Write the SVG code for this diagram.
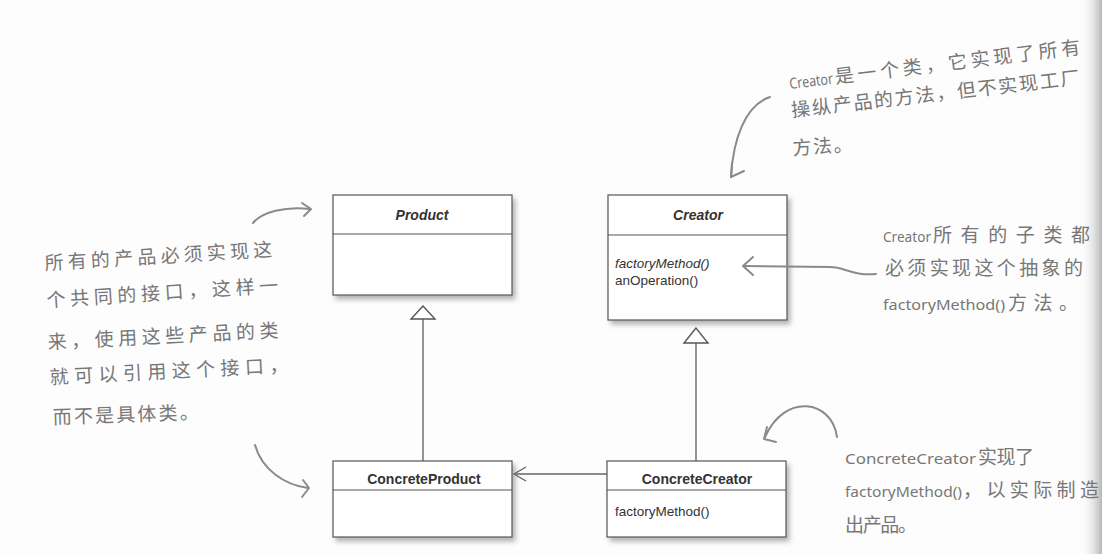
<svg xmlns="http://www.w3.org/2000/svg" width="1102" height="554" viewBox="0 0 1102 554">
<defs>
<filter id="shadow" x="-10%" y="-10%" width="125%" height="135%">
<feDropShadow dx="3" dy="4" stdDeviation="2.5" flood-color="#777" flood-opacity="0.55"/>
</filter>
<linearGradient id="edge" x1="0" y1="0" x2="1" y2="0">
<stop offset="0" stop-color="#ffffff" stop-opacity="0"/>
<stop offset="1" stop-color="#b5b5b5"/>
</linearGradient>
<style>
.box{fill:#fff;stroke:#555;stroke-width:1.2}
.div{stroke:#555;stroke-width:1.2}
.cls{font-family:"Liberation Sans",Arial,sans-serif;font-size:14px;font-weight:bold;fill:#333;text-anchor:middle}
.abs{font-style:italic}
.op{font-family:"Liberation Sans",Arial,sans-serif;font-size:13.5px;fill:#333}
.edge{fill:none;stroke:#666;stroke-width:1.4}
.tri{fill:#fff;stroke:#555;stroke-width:1.4}
.note{font-family:"Noto Sans CJK SC","Noto Sans",sans-serif;font-size:19px;fill:#777}
.lat{font-family:"Noto Sans","DejaVu Sans",sans-serif;font-size:15px;fill:#777}
.hand{fill:none;stroke:#8a8a8a;stroke-width:2;stroke-linecap:round;stroke-linejoin:round}
</style>
</defs>
<rect x="0" y="0" width="1102" height="554" fill="#fdfdfd"/>
<rect x="1080" y="0" width="22" height="554" fill="url(#edge)"/>

<g id="connectors">
<line class="edge" x1="423" y1="461" x2="423" y2="319"/>
<polygon class="tri" points="423,306 411,319 435,319"/>
<line class="edge" x1="696" y1="461" x2="696" y2="343"/>
<polygon class="tri" points="696,328 684,343 708,343"/>
<line class="edge" x1="607" y1="474" x2="514" y2="474"/>
<polyline class="edge" points="526,467 514,474 526,481" stroke-width="2"/>
</g>

<g id="Product">
<rect class="box" x="333" y="195" width="179" height="100" filter="url(#shadow)"/>
<line class="div" x1="333" y1="234" x2="512" y2="234"/>
<text class="cls abs" x="422" y="220">Product</text>
</g>

<g id="Creator">
<rect class="box" x="608" y="195" width="179" height="125" filter="url(#shadow)"/>
<line class="div" x1="608" y1="235" x2="787" y2="235"/>
<text class="cls abs" x="698" y="220">Creator</text>
<text class="op" x="615" y="268" font-style="italic">factoryMethod()</text>
<text class="op" x="615" y="285">anOperation()</text>
</g>

<g id="ConcreteProduct">
<rect class="box" x="333" y="461" width="179" height="76" filter="url(#shadow)"/>
<line class="div" x1="333" y1="490" x2="512" y2="490"/>
<text class="cls" x="424" y="484">ConcreteProduct</text>
</g>

<g id="ConcreteCreator">
<rect class="box" x="607" y="461" width="179" height="76" filter="url(#shadow)"/>
<line class="div" x1="607" y1="490" x2="786" y2="490"/>
<text class="cls" x="697" y="484">ConcreteCreator</text>
<text class="op" x="615" y="516" font-size="14">factoryMethod()</text>
</g>

<g id="note-product">
<text class="note" x="45" y="270" transform="rotate(-3.5 45 270)" textLength="228" lengthAdjust="spacing">所有的产品必须实现这</text>
<text class="note" x="47" y="307" transform="rotate(-3.7 47 307)" textLength="232" lengthAdjust="spacing">个共同的接口，这样一</text>
<text class="note" x="48" y="349" transform="rotate(-3 48 349)" textLength="231" lengthAdjust="spacing">来，使用这些产品的类</text>
<text class="note" x="50" y="384" transform="rotate(-2.9 50 384)" textLength="239" lengthAdjust="spacing">就可以引用这个接口，</text>
<text class="note" x="53" y="424" transform="rotate(-2 53 424)" textLength="146" lengthAdjust="spacing">而不是具体类。</text>
<path class="hand" d="M253,223 C262,212 285,206 310,209"/>
<path class="hand" d="M302,203 L311,209 L304,216"/>
<path class="hand" d="M255,445 C262,470 285,485 308,488"/>
<path class="hand" d="M303,480 L309,488 L302,497"/>
</g>

<g id="note-creator">
<g transform="rotate(-6.9 790 89)">
<text class="lat" x="790" y="89" textLength="44" lengthAdjust="spacingAndGlyphs">Creator</text>
<text class="note" x="836" y="89" textLength="247" lengthAdjust="spacing">是一个类，它实现了所有</text>
</g>
<text class="note" x="792" y="117" transform="rotate(-6.5 792 117)" textLength="290" lengthAdjust="spacing">操纵产品的方法，但不实现工厂</text>
<text class="note" x="793" y="155" transform="rotate(-4 793 155)" textLength="60" lengthAdjust="spacing">方法。</text>
<path class="hand" d="M770,97 C745,105 733,140 731,177"/>
<path class="hand" d="M732,163 L731,177 L744,171"/>
</g>

<g id="note-subclasses">
<text class="lat" x="883" y="242" textLength="48" lengthAdjust="spacingAndGlyphs">Creator</text>
<text class="note" x="933" y="242" textLength="157" lengthAdjust="spacing">所有的子类都</text>
<text class="note" x="885" y="275" textLength="198" lengthAdjust="spacing">必须实现这个抽象的</text>
<text class="lat" x="883" y="310" textLength="122" lengthAdjust="spacingAndGlyphs">factoryMethod()</text>
<text class="note" x="1008" y="310" textLength="70" lengthAdjust="spacing">方法。</text>
<path class="hand" d="M876,274 C852,276 845,267 830,267 L744,266"/>
<path class="hand" d="M753,257 L743,266 L753,275"/>
</g>

<g id="note-concretecreator">
<text class="lat" x="845" y="464" textLength="131" lengthAdjust="spacingAndGlyphs">ConcreteCreator</text>
<text class="note" x="978" y="464" textLength="56" lengthAdjust="spacing">实现了</text>
<text class="lat" x="845" y="497" textLength="117" lengthAdjust="spacingAndGlyphs">factoryMethod()</text>
<text class="note" x="963" y="497" textLength="136" lengthAdjust="spacing">，以实际制造</text>
<text class="note" x="845" y="532" textLength="72" lengthAdjust="spacing">出产品。</text>
<path class="hand" d="M837,437 C832,400 785,392 765,437"/>
<path class="hand" d="M767,427 L764,439 L776,442"/>
</g>
</svg>
